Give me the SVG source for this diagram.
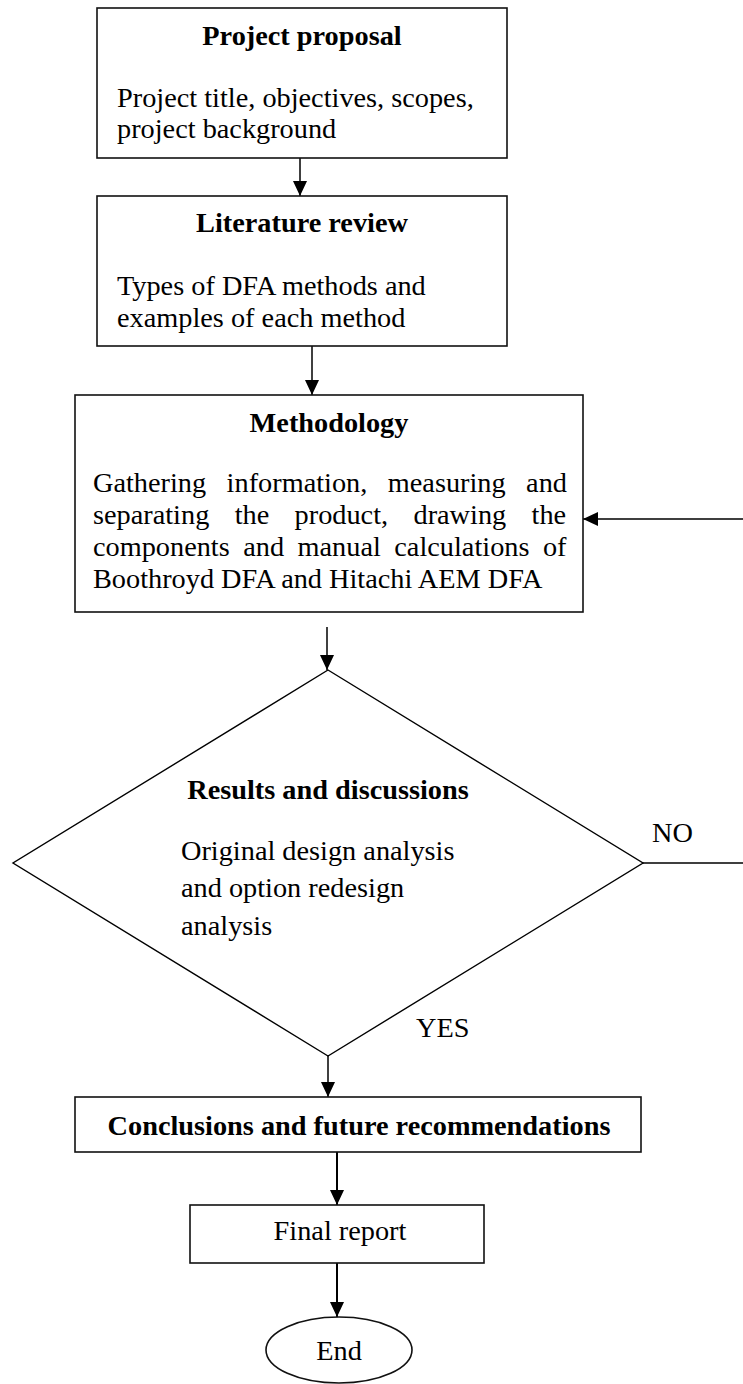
<svg xmlns="http://www.w3.org/2000/svg" width="743" height="1384" viewBox="0 0 743 1384">
<style>
  text { font-family: "Liberation Serif", "Times New Roman", serif; font-size: 28.3px; fill: #000; }
  .b { font-weight: bold; }
  .c { text-anchor: middle; }
  .box { fill: #fff; stroke: #111; stroke-width: 1.6; }
  .dia { fill: #fff; stroke: #000; stroke-width: 1.4; }
  .con { fill: none; stroke: #000; stroke-width: 1.5; }
  .con2 { fill: none; stroke: #000; stroke-width: 2; }
</style>
<defs>
  <marker id="arr" markerUnits="userSpaceOnUse" markerWidth="15" markerHeight="14" refX="15" refY="7" orient="auto">
    <path d="M0,0 L15,7 L0,14 z" fill="#000"/>
  </marker>
</defs>
<rect width="743" height="1384" fill="#fff"/>

<g id="connectors">
  <line class="con" x1="300" y1="158" x2="300" y2="196" marker-end="url(#arr)"/>
  <line class="con" x1="312" y1="346" x2="312" y2="395" marker-end="url(#arr)"/>
  <line class="con" x1="327" y1="627" x2="327" y2="670" marker-end="url(#arr)"/>
  <polyline class="con" points="643,863 746,863 746,519 583,519" marker-end="url(#arr)"/>
  <line class="con" x1="328" y1="1056" x2="328" y2="1097" marker-end="url(#arr)"/>
  <line class="con2" x1="337" y1="1152" x2="337" y2="1205" marker-end="url(#arr)"/>
  <line class="con2" x1="337" y1="1263" x2="337" y2="1317" marker-end="url(#arr)"/>
  <text x="652" y="842">NO</text>
  <text x="416" y="1037">YES</text>
</g>

<g id="proposal">
  <rect class="box" x="97" y="8" width="410" height="150"/>
  <text class="b c" x="302" y="45">Project proposal</text>
  <text x="117" y="107">Project title, objectives, scopes,</text>
  <text x="117" y="138">project background</text>
</g>

<g id="literature">
  <rect class="box" x="97" y="196" width="410" height="150"/>
  <text class="b c" x="302" y="232">Literature review</text>
  <text x="117" y="295">Types of DFA methods and</text>
  <text x="117" y="327">examples of each method</text>
</g>

<g id="methodology">
  <rect class="box" x="75" y="395" width="508" height="217"/>
  <text class="b c" x="329" y="432">Methodology</text>
  <text x="93" y="492" style="word-spacing:13.4px">Gathering information, measuring and</text>
  <text x="93" y="524" style="word-spacing:18.3px">separating the product, drawing the</text>
  <text x="93" y="556" style="word-spacing:6.4px">components and manual calculations of</text>
  <text x="93" y="588">Boothroyd DFA and Hitachi AEM DFA</text>
</g>

<g id="results">
  <polygon class="dia" points="328,670 643,863 328,1056 13,863"/>
  <text class="b c" x="328" y="799">Results and discussions</text>
  <text x="181" y="860">Original design analysis</text>
  <text x="181" y="897">and option redesign</text>
  <text x="181" y="935">analysis</text>
</g>

<g id="conclusions">
  <rect class="box" x="75" y="1097" width="566" height="55"/>
  <text class="b c" x="359" y="1135">Conclusions and future recommendations</text>
</g>

<g id="final-report">
  <rect class="box" x="190" y="1205" width="294" height="58"/>
  <text class="c" x="340" y="1240">Final report</text>
</g>

<g id="end">
  <ellipse class="box" cx="339" cy="1350" rx="73" ry="33"/>
  <text class="c" x="339" y="1360">End</text>
</g>
</svg>
